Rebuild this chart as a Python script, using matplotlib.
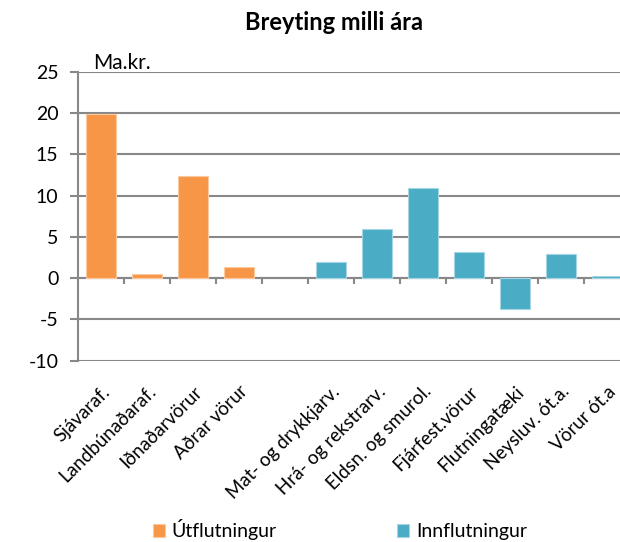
import matplotlib
matplotlib.use("Agg")
import matplotlib.pyplot as plt
import numpy as np

plt.rcParams['font.family'] = ['Lato', 'DejaVu Sans']
plt.rcParams['axes.unicode_minus'] = False

categories = ["Sjávaraf.", "Landbúnaðaraf.", "Iðnaðarvörur", "Aðrar vörur", "",
              "Mat- og drykkjarv.", "Hrá- og rekstrarv.", "Eldsn. og smurol.",
              "Fjárfest.vörur", "Flutningatæki", "Neysluv. ót.a.", "Vörur ót.a"]
utflutningur = [19.9, 0.5, 12.4, 1.3, np.nan, np.nan, np.nan, np.nan, np.nan, np.nan, np.nan, np.nan]
innflutningur = [np.nan, np.nan, np.nan, np.nan, np.nan, 2.0, 5.9, 10.9, 3.2, -3.8, 2.95, 0.3]
yticks = [-10, -5, 0, 5, 10, 15, 20, 25]

orange = "#F79646"
blue = "#4BACC6"
grey = "#888888"

fig = plt.figure(figsize=(6.2, 5.42), dpi=100)
ax = fig.add_axes([78/620, (542-360.5)/542, 552/620, 288.5/542])

x = np.arange(len(categories))
ax.bar(x, utflutningur, width=0.67, color=orange, edgecolor="#FBC9A0", linewidth=0.8, zorder=3, label="Útflutningur")
ax.bar(x, innflutningur, width=0.67, color=blue, edgecolor="#A5D5E3", linewidth=0.8, zorder=3, label="Innflutningur")

ax.set_xlim(-0.5, len(categories) - 0.5)
ax.set_ylim(-10, 25)
ax.set_yticks(yticks)
ax.yaxis.grid(True, color=grey, linewidth=1.5, zorder=0)
ax.set_axisbelow(True)
for s in ["top", "right", "bottom"]:
    ax.spines[s].set_visible(False)
ax.spines["left"].set_color(grey)
ax.spines["left"].set_linewidth(1.5)
ax.tick_params(axis="y", direction="out", length=6, width=1.5, color=grey, labelsize=14, pad=8)

ax.set_xticks(x)
ax.set_xticklabels(categories, rotation=45, ha="right", rotation_mode="anchor", fontsize=13.5)
ax.tick_params(axis="x", length=0, pad=16)

# category axis at zero with boundary ticks
ymin, ymax = ax.get_ylim()
sec = ax.secondary_xaxis((0 - ymin) / (ymax - ymin))
sec.set_xticks(np.arange(0.5, len(categories) - 0.5, 1.0))
sec.set_xticklabels([])
sec.tick_params(direction="out", length=4, width=1.5, color=grey)
sec.spines["bottom"].set_color(grey)
sec.spines["bottom"].set_linewidth(1.5)
for s in ["top", "left", "right"]:
    if s in sec.spines:
        sec.spines[s].set_visible(False)

fig.text(93/620, 1 - 73/542, "Ma.kr.", fontsize=15, ha="left", va="bottom")
fig.text(334/620, 1 - 22/542, "Breyting milli ára", fontsize=17, fontweight="bold", ha="center", va="center")

handles, labels = ax.get_legend_handles_labels()
leg = fig.legend(handles, labels, loc="center", bbox_to_anchor=(340/620, 1 - 530/542), ncol=2,
                 frameon=False, fontsize=14, handlelength=0.6, handleheight=0.6, handletextpad=0.35,
                 columnspacing=6.2)

fig.savefig("out.png", dpi=100)
